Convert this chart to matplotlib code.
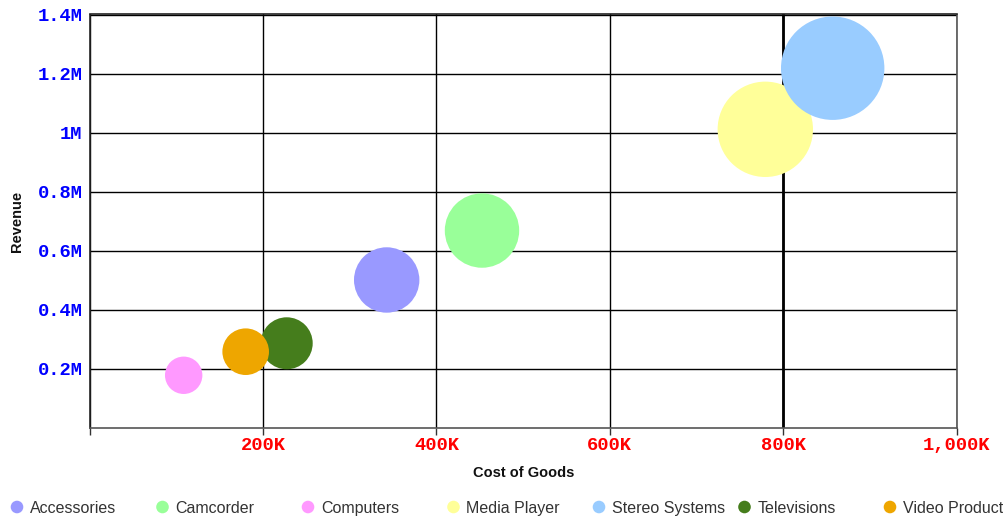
import matplotlib
matplotlib.use("Agg")
import matplotlib.pyplot as plt
from matplotlib.ticker import FixedLocator
from matplotlib.patches import Circle
from matplotlib.font_manager import FontProperties

categories = ["Accessories", "Camcorder", "Computers", "Media Player",
              "Stereo Systems", "Televisions", "Video Products"]
cost_k = [342.7, 452.6, 108.6, 779.3, 857.0, 227.4, 180.1]          # Cost of Goods (K)
revenue_m = [0.5005, 0.668, 0.1776, 1.011, 1.218, 0.286, 0.2575]     # Revenue (M)
bubble_radius_px = [32.7, 37.2, 18.7, 47.7, 51.7, 26.0, 23.3]        # bubble size (radius, px)
colors = ["#9999ff", "#99ff99", "#ff99ff", "#ffff99", "#99ccff", "#457d1c", "#eea600"]

x_ticks = [0, 200, 400, 600, 800, 1000]
x_labels = ["", "200K", "400K", "600K", "800K", "1,000K"]
y_ticks = [0.2, 0.4, 0.6, 0.8, 1.0, 1.2, 1.4]
y_labels = ["0.2M", "0.4M", "0.6M", "0.8M", "1M", "1.2M", "1.4M"]

DPI = 100
W, H = 1004, 516
fig = plt.figure(figsize=(W / DPI, H / DPI), dpi=DPI)
ax = fig.add_axes([89.5 / W, (H - 427.7) / H, 867.2 / W, 413.2 / H])
ax.set_xlim(0, 1000)
ax.set_ylim(0, 1.4)

for name, x, y, r, c in zip(categories, cost_k, revenue_m, bubble_radius_px, colors):
    s = (2 * r * 72 / DPI) ** 2
    ax.scatter([x], [y], s=s, color=c, edgecolors="none", zorder=3, label=name)

ax.xaxis.set_major_locator(FixedLocator(x_ticks))
ax.set_xticklabels(x_labels)
ax.yaxis.set_major_locator(FixedLocator(y_ticks))
ax.set_yticklabels(y_labels)
ax.grid(True, color="black", linewidth=1.0, zorder=1)
ax.set_axisbelow(True)
ax.axvline(800, color="black", linewidth=2.0, zorder=1.5)

for side, sp in ax.spines.items():
    sp.set_color("#222222" if side in ("top", "left") else "#555555")
    sp.set_linewidth(1.2)

tick_fp = FontProperties(family="Liberation Mono", weight="bold", size=13.5)
for lab in ax.get_xticklabels():
    lab.set_color("#ff0000")
    lab.set_fontproperties(tick_fp)
for lab in ax.get_yticklabels():
    lab.set_color("#0000ff")
    lab.set_fontproperties(tick_fp)
ax.tick_params(axis="x", length=5, width=1, color="#333333", pad=2)
ax.tick_params(axis="y", length=0, pad=5)

fig.text(524 / W, (H - 473) / H, "Cost of Goods", family="Liberation Sans", weight="bold",
         size=10.5, color="#111111", ha="center", va="center")
fig.text(17 / W, (H - 221) / H, "Revenue", family="Liberation Sans", weight="bold",
         size=10.5, color="#111111", ha="center", va="center", rotation=90)

# legend row
for i, (name, c) in enumerate(zip(categories, colors)):
    xm = 17 + i * 145.5
    fig.add_artist(Circle((xm / DPI, (H - 507) / DPI), radius=6.3 / DPI,
                          transform=fig.dpi_scale_trans, color=c, ec="none"))
    fig.text((xm + 13) / W, (H - 507) / H, name, family="Liberation Sans",
             size=11.5, color="#333333", va="center_baseline", ha="left")

fig.savefig("out.png", dpi=DPI)
